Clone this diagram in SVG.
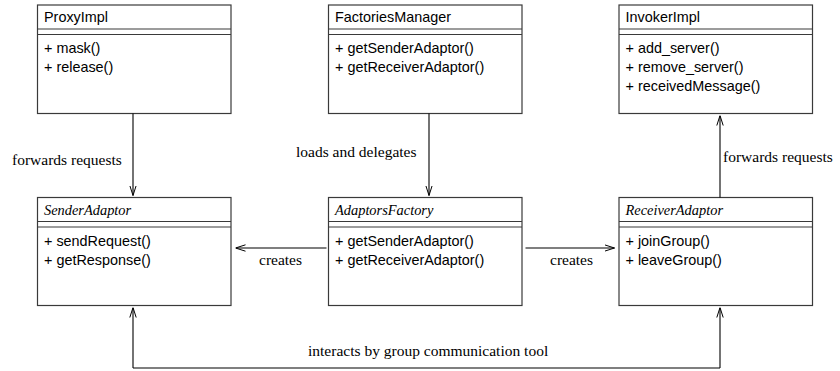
<svg xmlns="http://www.w3.org/2000/svg" width="840" height="371" viewBox="0 0 840 371">
  <defs>
    <marker id="arrow" viewBox="0 0 10 8" refX="10" refY="4" markerWidth="10" markerHeight="8" markerUnits="userSpaceOnUse" orient="auto">
      <path d="M0,0.8 L10,4 L0,7.2" fill="none" stroke="#000" stroke-width="1"/>
    </marker>
    <style>
      .box { fill: #fff; stroke: #3a3a3a; stroke-width: 1.2; }
      .sep { stroke: #3a3a3a; stroke-width: 1.2; fill: none; }
      .name { font-family: "Liberation Serif", "Times New Roman", serif; font-style: italic; font-size: 14.4px; fill: #000; }
      .cname { font-family: "Liberation Sans", Arial, sans-serif; font-size: 14.4px; fill: #000; }
      .op { font-family: "Liberation Sans", Arial, sans-serif; font-size: 14.4px; fill: #000; }
      .lbl { font-family: "Liberation Serif", "Times New Roman", serif; font-size: 15.5px; fill: #000; }
      .edge { stroke: #000; stroke-width: 1.1; fill: none; marker-end: url(#arrow); }
      .line { stroke: #000; stroke-width: 1.1; fill: none; }
    </style>
  </defs>

  <!-- top row: concrete classes -->
  <g id="ProxyImpl">
    <rect class="box" x="37.5" y="5" width="193.5" height="108.5"/>
    <path class="sep" d="M37.5,29 H231 M37.5,34.5 H231"/>
    <text class="cname" x="44" y="22">ProxyImpl</text>
    <text class="op" x="44" y="52.5">+ mask()</text>
    <text class="op" x="44" y="71.5">+ release()</text>
  </g>

  <g id="FactoriesManager">
    <rect class="box" x="328.5" y="5" width="193.5" height="108.5"/>
    <path class="sep" d="M328.5,29 H522 M328.5,34.5 H522"/>
    <text class="cname" x="335" y="22">FactoriesManager</text>
    <text class="op" x="335" y="52.5">+ getSenderAdaptor()</text>
    <text class="op" x="335" y="71.5">+ getReceiverAdaptor()</text>
  </g>

  <g id="InvokerImpl">
    <rect class="box" x="619" y="5" width="193.5" height="108.5"/>
    <path class="sep" d="M619,29 H812.5 M619,34.5 H812.5"/>
    <text class="cname" x="625.5" y="22">InvokerImpl</text>
    <text class="op" x="625.5" y="52.5">+ add_server()</text>
    <text class="op" x="625.5" y="71.5">+ remove_server()</text>
    <text class="op" x="625.5" y="90.5">+ receivedMessage()</text>
  </g>

  <!-- bottom row: abstract classes -->
  <g id="SenderAdaptor">
    <rect class="box" x="37.5" y="197.5" width="193.5" height="108"/>
    <path class="sep" d="M37.5,221.5 H231 M37.5,227 H231"/>
    <text class="name" x="44" y="215">SenderAdaptor</text>
    <text class="op" x="44" y="245.5">+ sendRequest()</text>
    <text class="op" x="44" y="264.5">+ getResponse()</text>
  </g>

  <g id="AdaptorsFactory">
    <rect class="box" x="328.5" y="197.5" width="193.5" height="108"/>
    <path class="sep" d="M328.5,221.5 H522 M328.5,227 H522"/>
    <text class="name" x="335" y="215">AdaptorsFactory</text>
    <text class="op" x="335" y="245.5">+ getSenderAdaptor()</text>
    <text class="op" x="335" y="264.5">+ getReceiverAdaptor()</text>
  </g>

  <g id="ReceiverAdaptor">
    <rect class="box" x="619" y="197.5" width="193.5" height="108"/>
    <path class="sep" d="M619,221.5 H812.5 M619,227 H812.5"/>
    <text class="name" x="625.5" y="215">ReceiverAdaptor</text>
    <text class="op" x="625.5" y="245.5">+ joinGroup()</text>
    <text class="op" x="625.5" y="264.5">+ leaveGroup()</text>
  </g>

  <!-- connectors -->
  <g id="connectors">
    <path class="edge" d="M133,113.5 V195.5"/>
    <path class="edge" d="M429,113.5 V195.5"/>
    <path class="edge" d="M720,197.5 V115.5"/>
    <path class="edge" d="M326.5,248 H235.5"/>
    <path class="edge" d="M525.5,248 H614.5"/>
    <path class="line" d="M133,368 H720"/>
    <path class="edge" d="M133,368 V307.5"/>
    <path class="edge" d="M720,368 V307.5"/>

    <text class="lbl" x="12" y="164.5">forwards requests</text>
    <text class="lbl" x="296" y="157">loads and delegates</text>
    <text class="lbl" x="723" y="162">forwards requests</text>
    <text class="lbl" x="259" y="265">creates</text>
    <text class="lbl" x="550" y="265">creates</text>
    <text class="lbl" x="308" y="356">interacts by group communication tool</text>
  </g>
</svg>
